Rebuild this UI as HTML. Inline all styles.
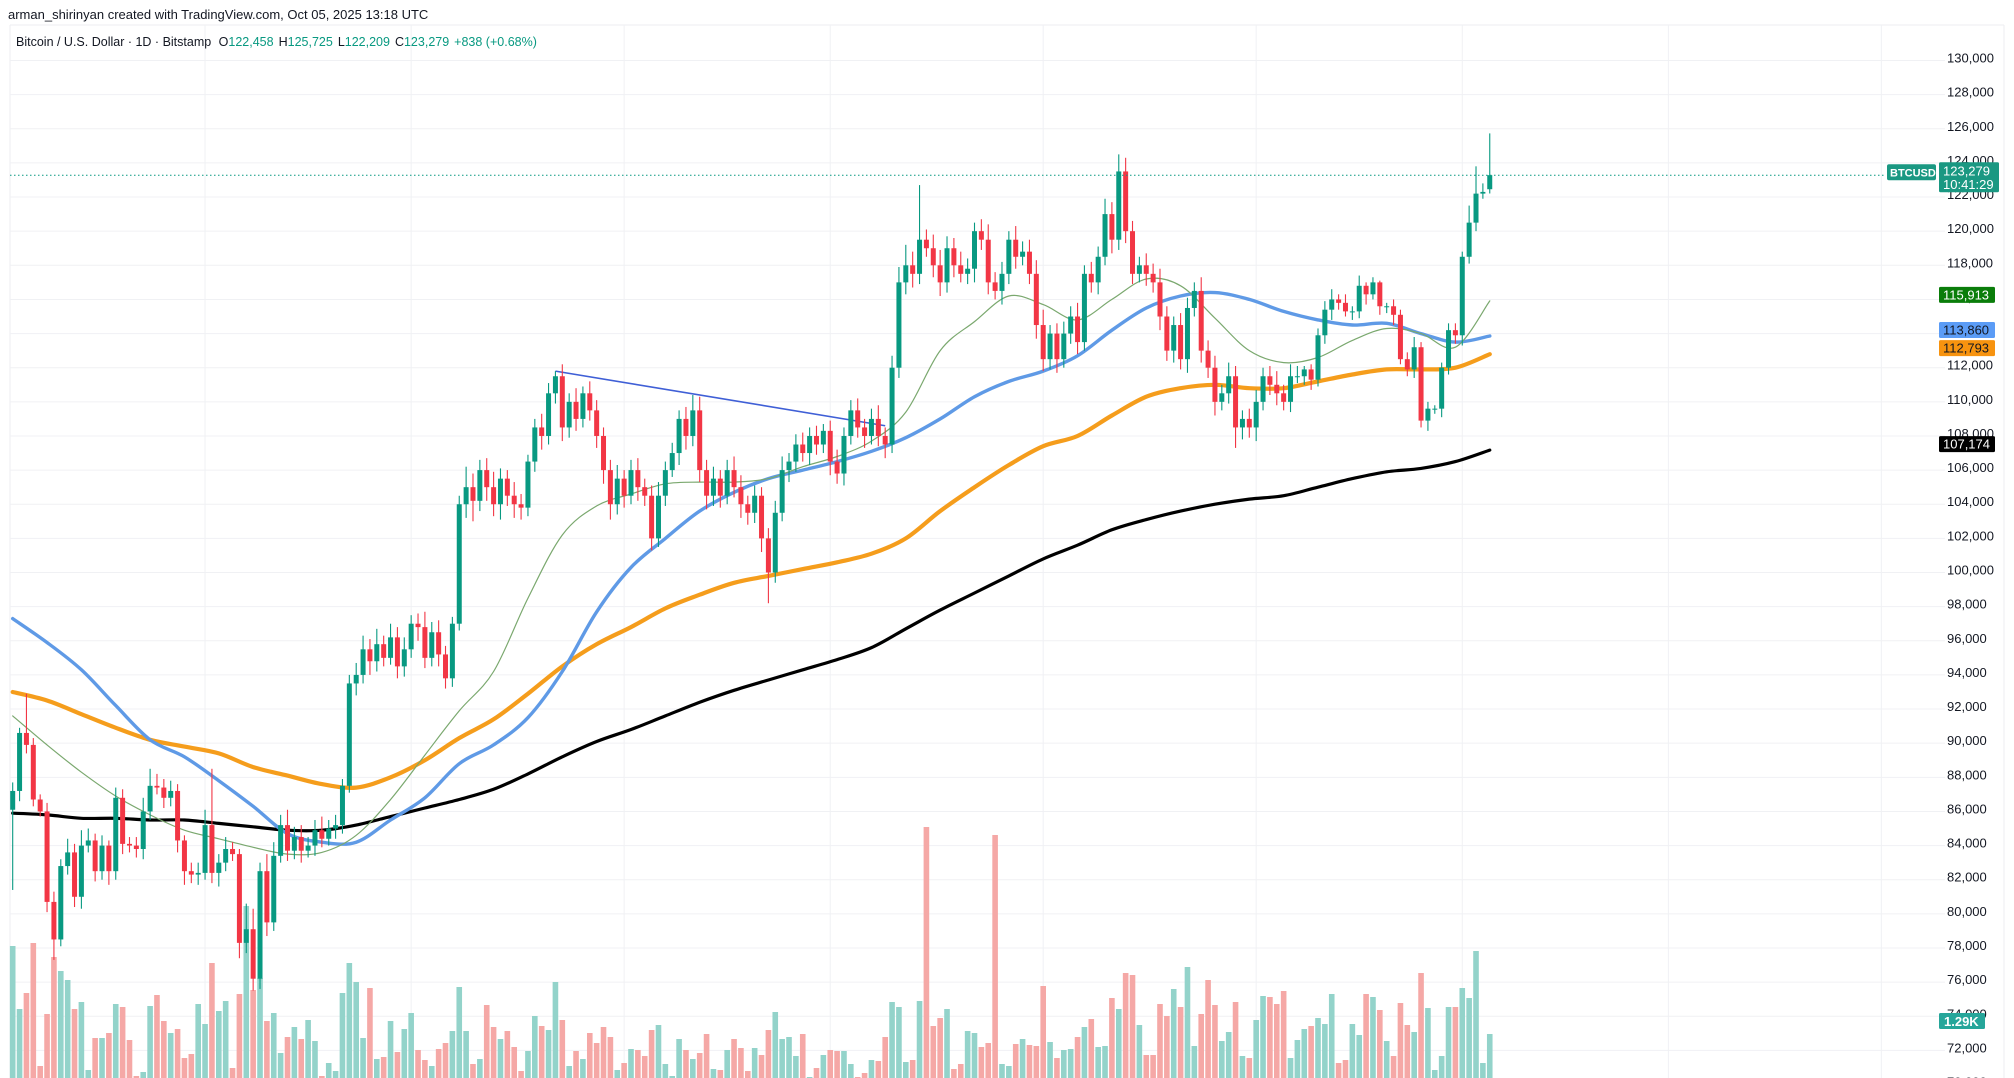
<!DOCTYPE html>
<html><head><meta charset="utf-8"><style>
body{margin:0;background:#fff;width:2014px;height:1078px;overflow:hidden;font-family:"Liberation Sans",sans-serif}
svg{position:absolute;left:0;top:0}
</style></head><body>
<svg id="chart" width="2014" height="1078" xmlns="http://www.w3.org/2000/svg">
<text x="8" y="19" font-size="13" fill="#131722" font-family="Liberation Sans, sans-serif">arman_shirinyan created with TradingView.com, Oct 05, 2025 13:18 UTC</text>
<g id="grid"></g>
<g id="vol"></g>
<g id="mas"></g>
<g id="candles"></g>
<g id="axis"></g>
<text x="16" y="46" font-size="12.5" fill="#131722" font-family="Liberation Sans, sans-serif">Bitcoin / U.S. Dollar · 1D · Bitstamp <tspan dx="4">O</tspan><tspan fill="#089981">122,458</tspan><tspan dx="5">H</tspan><tspan fill="#089981">125,725</tspan><tspan dx="5">L</tspan><tspan fill="#089981">122,209</tspan><tspan dx="5">C</tspan><tspan fill="#089981">123,279</tspan><tspan dx="5" fill="#089981">+838 (+0.68%)</tspan></text>
</svg>
<script>
const closes=[87.2,90.6,89.9,86.7,86.0,80.7,78.5,82.8,83.6,81.0,
84.0,84.3,82.5,84.0,82.5,86.8,84.1,84.0,83.8,86.0,
87.5,87.4,86.8,87.2,84.3,82.5,82.3,82.4,85.2,82.4,
83.0,83.8,83.5,78.3,79.1,76.2,82.5,79.5,83.4,85.2,
83.7,84.5,83.7,84.0,84.9,84.4,85.0,85.2,87.5,93.5,
94.0,95.5,94.8,95.8,95.0,96.2,94.5,95.5,97.0,96.8,
95.0,96.5,95.2,93.8,97.0,104.0,105.0,104.2,106.0,105.0,
104.0,105.5,104.5,104.0,103.8,106.5,108.5,108.0,110.5,111.5,
108.5,110.0,109.0,110.5,109.5,108.0,106.0,104.0,105.5,104.5,
106.0,105.0,104.5,102.0,104.5,106.0,107.0,109.0,108.0,109.5,
106.0,104.5,105.5,104.5,106.0,105.0,104.0,103.5,104.5,102.0,
100.0,103.5,106.0,106.5,107.5,107.0,108.0,107.5,108.3,106.5,
105.8,108.0,109.5,108.5,108.0,109.0,108.0,107.5,112.0,117.0,
118.0,117.5,119.5,119.0,118.0,117.0,119.0,118.0,117.5,117.8,
120.0,119.5,117.0,116.5,117.5,119.5,118.5,118.8,117.5,114.5,
112.5,114.0,112.5,114.0,115.0,113.5,117.5,117.0,118.5,121.0,
119.5,123.5,120.0,117.5,118.0,117.5,117.0,115.0,113.0,114.5,
112.5,115.5,116.5,113.0,112.0,110.0,110.5,111.5,108.5,109.0,
108.5,110.0,111.5,111.0,110.5,110.0,111.5,111.5,111.9,111.3,
113.9,115.4,116.0,115.8,115.3,115.3,116.8,116.3,117.0,115.6,
115.6,115.1,112.5,111.9,113.2,108.9,109.6,109.6,112.0,114.2,
113.9,118.5,120.5,122.2,122.3,123.279];
const opens=[86.1,87.2,90.6,89.9,86.7,86.0,80.7,78.5,82.8,83.6,
81.0,84.0,84.3,82.5,84.0,82.5,86.8,84.1,84.0,83.8,
86.0,87.5,87.4,86.8,87.2,84.3,82.5,82.3,82.4,85.2,
82.4,83.0,83.8,83.5,78.3,79.1,76.2,82.5,79.5,83.4,
85.2,83.7,84.5,83.7,84.0,84.9,84.4,85.0,85.2,87.5,
93.5,94.0,95.5,94.8,95.8,95.0,96.2,94.5,95.5,97.0,
96.8,95.0,96.5,95.2,93.8,97.0,104.0,105.0,104.2,106.0,
105.0,104.0,105.5,104.5,104.0,103.8,106.5,108.5,108.0,110.5,
111.5,108.5,110.0,109.0,110.5,109.5,108.0,106.0,104.0,105.5,
104.5,106.0,105.0,104.5,102.0,104.5,106.0,107.0,109.0,108.0,
109.5,106.0,104.5,105.5,104.5,106.0,105.0,104.0,103.5,104.5,
102.0,100.0,103.5,106.0,106.5,107.5,107.0,108.0,107.5,108.3,
106.5,105.8,108.0,109.5,108.5,108.0,109.0,108.0,107.5,112.0,
117.0,118.0,117.5,119.5,119.0,118.0,117.0,119.0,118.0,117.5,
117.8,120.0,119.5,117.0,116.5,117.5,119.5,118.5,118.8,117.5,
114.5,112.5,114.0,112.5,114.0,115.0,113.5,117.5,117.0,118.5,
121.0,119.5,123.5,120.0,117.5,118.0,117.5,117.0,115.0,113.0,
114.5,112.5,115.5,116.5,113.0,112.0,110.0,110.5,111.5,108.5,
109.0,108.5,110.0,111.5,111.0,110.5,110.0,111.5,111.5,111.9,
111.3,113.9,115.4,116.0,115.8,115.3,115.3,116.8,116.3,117.0,
115.6,115.6,115.1,112.5,111.9,113.2,108.9,109.6,109.6,112.0,
114.2,113.9,118.5,120.5,122.2,122.458];
const wickUp=[0.5,0.3,2.3,0.4,0.3,0.5,0.6,0.4,0.8,0.5,0.9,0.7,0.4,0.6,0.3,0.6,0.5,0.4,0.5,0.8,
1.0,0.7,0.5,0.6,0.4,0.3,0.5,0.6,0.9,3.3,0.5,0.7,0.4,0.3,1.5,1.2,0.5,1.0,0.8,0.6,
0.9,0.6,0.7,0.5,0.6,0.8,0.5,0.6,0.4,0.5,0.7,0.8,0.6,0.9,0.5,0.8,0.6,0.7,0.5,0.6,
0.9,0.6,0.7,0.5,0.4,0.5,1.2,0.8,0.6,0.7,0.9,0.6,0.5,0.8,0.6,0.4,0.5,0.8,0.6,0.3,
0.7,0.5,0.8,0.4,0.7,0.6,0.5,0.6,0.8,0.5,0.6,0.7,0.5,0.6,0.8,0.5,0.6,0.5,0.7,0.9,
0.8,0.6,0.7,0.5,0.6,0.8,0.7,0.5,0.6,0.5,0.6,0.7,0.8,0.5,0.6,0.7,0.5,0.6,0.4,0.6,
0.7,0.5,0.6,0.7,0.5,0.6,0.8,0.5,0.7,0.9,1.2,0.8,3.2,0.6,0.8,0.9,0.7,0.6,0.8,0.6,
0.5,0.7,0.9,0.6,0.7,0.5,0.8,0.6,0.7,0.8,0.9,0.5,0.6,0.7,0.6,0.8,0.5,0.7,0.6,0.9,
0.7,1.0,0.8,0.6,0.5,0.7,0.6,0.8,0.6,0.5,0.7,0.6,0.5,0.8,0.6,0.7,0.5,0.8,0.6,0.5,
0.6,0.7,0.5,0.6,0.8,0.5,0.7,0.6,0.2,0.3,0.4,0.5,0.6,0.3,0.5,0.3,0.6,0.2,0.3,0.1,
0.2,0.4,0.3,0.4,0.6,0.3,0.4,0.2,0.3,0.4,0.4,0.3,1.0,1.6,0.5,2.45];
const wickDn=[4.7,0.6,0.5,0.4,0.3,0.6,1.2,0.4,0.5,0.6,0.7,0.4,0.6,0.5,0.8,0.5,0.6,0.4,0.5,0.6,
0.5,0.4,0.6,0.5,0.7,0.8,0.5,0.6,0.4,0.6,0.8,0.5,0.4,0.9,0.6,0.7,0.6,0.8,0.5,0.4,
0.6,0.5,0.7,0.4,0.6,0.5,0.4,0.6,0.5,0.4,0.7,0.5,0.8,0.6,0.5,0.4,0.7,0.6,0.5,0.8,
0.6,0.5,0.7,0.6,0.5,0.4,0.8,1.2,0.6,0.8,0.7,0.9,0.6,0.8,0.7,0.5,0.6,0.8,0.5,0.6,
0.8,0.6,0.7,0.5,0.6,0.7,0.8,0.9,0.6,0.7,0.5,0.8,0.6,0.7,0.5,0.6,0.4,0.7,0.8,0.6,
0.7,0.8,0.6,0.7,0.5,0.6,0.8,0.7,0.6,0.8,1.8,0.6,0.5,0.7,0.6,0.5,0.7,0.6,0.5,0.8,
0.6,0.7,0.5,0.6,0.7,0.5,0.6,0.8,0.5,0.6,0.7,0.8,0.6,0.5,0.7,0.8,0.6,0.7,0.5,0.6,
0.8,0.6,0.7,0.5,0.8,0.6,0.7,0.5,0.6,0.8,0.7,0.6,0.8,0.5,0.6,0.7,0.5,0.6,0.7,0.5,
0.8,0.6,0.7,0.6,0.5,0.7,0.6,0.8,0.6,0.7,0.6,0.8,0.5,0.7,0.6,0.8,0.5,0.6,1.2,0.7,
0.6,0.8,0.5,0.6,0.7,0.5,0.6,0.4,0.5,0.6,0.4,0.5,0.6,0.4,0.3,0.5,0.4,0.6,0.3,0.5,
0.4,0.6,0.3,0.4,0.5,0.4,0.6,0.3,0.5,0.4,0.5,0.6,0.4,0.5,0.3,0.25];
const volumes=[132,69,85,135,12,64,121,107,98,69,76,8,40,40,45,74,71,38,2,6,
72,83,57,45,49,20,24,74,54,115,67,77,10,84,172,88,100,57,65,25,
41,51,39,58,37,2,15,7,85,115,96,40,90,19,21,57,26,49,65,28,
18,12,29,35,47,91,47,14,19,73,51,39,47,31,7,27,62,52,48,96,
58,12,27,19,45,35,51,41,8,15,29,28,22,48,53,14,2,39,28,19,
25,44,9,8,28,39,30,7,30,23,48,66,39,41,22,44,1,10,23,28,
27,27,14,1,5,18,17,41,76,71,16,18,77,251,52,60,69,9,14,47,
45,31,35,243,14,12,34,39,33,32,92,36,20,28,29,41,51,59,31,32,
80,69,105,103,53,23,23,74,62,89,71,111,32,64,98,73,37,46,76,22,
20,58,82,81,74,87,20,38,49,52,60,54,84,15,18,54,43,84,81,68,
37,22,75,53,46,105,70,8,22,71,71,90,80,127,15,44];
const maBlue=[97.3,95.9,94.3,92.2,90.2,89.2,87.8,86.3,84.7,84.2,84.2,85.5,86.8,88.8,89.9,91.5,94.2,97.7,100.3,102.0,103.6,104.7,105.5,106.0,106.5,107.1,107.9,109.0,110.3,111.2,111.8,112.7,114.2,115.5,116.2,116.4,116.0,115.3,114.8,114.5,114.6,114.0,113.5,113.86];
const maOrange=[93.0,92.5,91.7,90.9,90.2,89.8,89.4,88.6,88.1,87.6,87.4,88.0,89.0,90.3,91.4,92.9,94.5,95.8,96.8,97.9,98.7,99.4,99.8,100.2,100.6,101.1,102.0,103.6,105.0,106.3,107.4,108.0,109.2,110.3,110.8,111.0,110.8,110.8,111.2,111.6,111.9,111.9,112.0,112.793];
const maBlack=[85.9,85.8,85.6,85.6,85.5,85.5,85.3,85.1,84.9,84.9,85.2,85.7,86.2,86.7,87.3,88.2,89.2,90.1,90.8,91.6,92.4,93.1,93.7,94.3,94.9,95.6,96.7,97.8,98.8,99.8,100.8,101.6,102.5,103.1,103.6,104.0,104.3,104.5,105.0,105.5,105.9,106.1,106.5,107.174];
const maGreen=[91.6,89.9,88.3,86.9,85.8,84.9,84.4,83.9,83.5,83.6,84.6,86.7,89.3,91.9,94.2,98.5,102.2,103.9,104.6,105.2,105.3,105.3,105.5,106.2,106.8,107.7,109.4,113.0,114.7,116.2,115.7,114.8,116.0,117.2,116.8,114.9,113.0,112.3,112.6,113.6,114.3,114.0,113.2,115.913];
const trendIdx=[79,127];
const trendVal=[111.8,108.6];
const priceTicks=[130,128,126,124,122,120,118,116,114,112,110,108,106,104,102,100,98,96,94,92,90,88,86,84,82,80,78,76,74,72,70];
const gridDays=[28,58,89,119,150,181,211,241,272];

const NS='http://www.w3.org/2000/svg';
const X=i=>12.7+i*6.87;
const Y=p=>60.5+(130-p)*17.067;
const VY=v=>1078-v;
function mk(tag,parent,attrs){const e=document.createElementNS(NS,tag);for(const k in attrs)e.setAttribute(k,attrs[k]);parent.appendChild(e);return e;}
const fmt=p=>Math.round(p*1000).toLocaleString('en-US');
const grid=document.getElementById('grid');
mk('line',grid,{x1:10,y1:25,x2:2004,y2:25,stroke:'#eceef2'});
mk('line',grid,{x1:10,y1:25,x2:10,y2:1078,stroke:'#eceef2'});
mk('line',grid,{x1:2004,y1:25,x2:2004,y2:1078,stroke:'#eceef2'});
priceTicks.forEach(p=>{const l=mk('line',grid,{x1:10,y1:Y(p),x2:1945,y2:Y(p),stroke:'#f0f1f4'});

});
gridDays.forEach(d=>{const l=mk('line',grid,{x1:X(d),y1:25,x2:X(d),y2:1078,stroke:'#f0f1f4'});

});
const vol=document.getElementById('vol');
volumes.forEach((v,i)=>{const up=closes[i]>=opens[i];const r=mk('rect',vol,{x:X(i)-2.8,y:VY(v),width:5.6,height:v,fill:up?'#93d3ca':'#f5a8a6'});

});
const mas=document.getElementById('mas');
function smoothPath(arr){const pts=arr.map((v,k)=>[X(Math.min(k*5,215)),Y(v)]);
let d='M'+pts[0][0].toFixed(1)+','+pts[0][1].toFixed(1);
for(let k=0;k<pts.length-1;k++){const p0=pts[Math.max(0,k-1)],p1=pts[k],p2=pts[k+1],p3=pts[Math.min(pts.length-1,k+2)];
const c1x=p1[0]+(p2[0]-p0[0])/6,c1y=p1[1]+(p2[1]-p0[1])/6,c2x=p2[0]-(p3[0]-p1[0])/6,c2y=p2[1]-(p3[1]-p1[1])/6;
d+=' C'+c1x.toFixed(1)+','+c1y.toFixed(1)+' '+c2x.toFixed(1)+','+c2y.toFixed(1)+' '+p2[0].toFixed(1)+','+p2[1].toFixed(1);}
return d;}
function maLine(arr,color,w,name){
const pl=mk('path',mas,{d:smoothPath(arr),fill:'none',stroke:color,'stroke-width':w,'stroke-linejoin':'round','stroke-linecap':'round'});

}
maLine(maBlack,'#000000',3.2,'ma-black-line');
maLine(maOrange,'#f59d1c',4.2,'ma-orange-line');
maLine(maBlue,'#5f9ae6',3.4,'ma-blue-line');
maLine(maGreen,'#7aa86e',1.2,'ma-green-line');
const tl=mk('line',mas,{x1:X(trendIdx[0]),y1:Y(trendVal[0]),x2:X(trendIdx[1]),y2:Y(trendVal[1]),stroke:'#3f5fd6','stroke-width':1.6});


const cg=document.getElementById('candles');
closes.forEach((c,i)=>{const o=opens[i];const up=c>=o;const col=up?'#089981':'#f23645';
const hi=Math.max(o,c)+wickUp[i],lo=Math.min(o,c)-wickDn[i];
const w=mk('line',cg,{x1:X(i),y1:Y(hi),x2:X(i),y2:Y(lo),stroke:col,'stroke-width':1.1});


const top=Y(Math.max(o,c)),h=Math.max(1,Y(Math.min(o,c))-top);
const b=mk('rect',cg,{x:X(i)-2.5,y:top,width:5,height:h,fill:col});

});
const last=closes[closes.length-1];
const pl=mk('line',cg,{x1:10,y1:Y(last),x2:1885,y2:Y(last),stroke:'#089981','stroke-width':1,'stroke-dasharray':'1.5,2.5'});


const ax=document.getElementById('axis');
priceTicks.forEach(p=>{const t=mk('text',ax,{x:1947,y:Y(p)+2,'font-size':13,fill:'#131722','font-family':'Liberation Sans, sans-serif'});t.textContent=fmt(p);

});
function tag(val,bg,fg,name,w){const y=Y(val)-6;const g=mk('g',ax,{});


mk('rect',g,{x:1939,y:y-8,width:w,height:16,fill:bg,rx:1.5});
const t=mk('text',g,{x:1943,y:y+4.5,'font-size':13,fill:fg,'font-family':'Liberation Sans, sans-serif'});t.textContent=fmt(val);}
tag(maGreen[maGreen.length-1],'#0a7d0a','#ffffff','ma-green-tag',56);
tag(maBlue[maBlue.length-1],'#5b9cf6','#131722','ma-blue-tag',56);
tag(maOrange[maOrange.length-1],'#f7930f','#131722','ma-orange-tag',56);
tag(maBlack[maBlack.length-1],'#000000','#ffffff','ma-black-tag',56);
const ly=Y(last);
const sg=mk('g',ax,{});


mk('rect',sg,{x:1887,y:ly-11,width:49,height:16,fill:'#1a9882',rx:2});
let t=mk('text',sg,{x:1890,y:ly+1.5,'font-size':11,fill:'#fff','font-weight':'bold','font-family':'Liberation Sans, sans-serif'});t.textContent='BTCUSD';
mk('rect',sg,{x:1939,y:ly-13,width:60,height:30,fill:'#1a9882',rx:1.5});
t=mk('text',sg,{x:1943,y:ly+0.5,'font-size':13,fill:'#fff','font-family':'Liberation Sans, sans-serif'});t.textContent=fmt(last);
t=mk('text',sg,{x:1943,y:ly+14,'font-size':13,fill:'#fff','font-family':'Liberation Sans, sans-serif'});t.textContent='10:41:29';
const vg=mk('g',ax,{});


mk('rect',vg,{x:1939,y:1013,width:46,height:16,fill:'#26a69a',rx:1.5});
t=mk('text',vg,{x:1944,y:1026,'font-size':13,fill:'#fff','font-weight':'bold','font-family':'Liberation Sans, sans-serif'});t.textContent='1.29K';
</script>
</body></html>
